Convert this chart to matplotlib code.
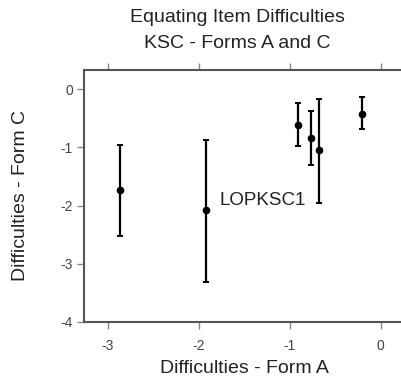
import numpy as np
import matplotlib.pyplot as plt

plt.rcParams['font.family'] = ['Liberation Sans', 'DejaVu Sans']

# difficulty estimates
form_a = [-2.87, -1.92, -0.91, -0.77, -0.68, -0.21]
form_c = [-1.73, -2.08, -0.61, -0.84, -1.05, -0.42]
err_hi = [-0.96, -0.88, -0.23, -0.37, -0.16, -0.14]
err_lo = [-2.52, -3.31, -0.98, -1.30, -1.95, -0.69]
label = 'LOPKSC1'

form_a = np.array(form_a)
form_c = np.array(form_c)
yerr = [form_c - np.array(err_lo), np.array(err_hi) - form_c]

fig = plt.figure(figsize=(4.02, 3.81), dpi=100)
ax = fig.add_axes([0.209, 0.155, 0.791, 0.661])

ax.errorbar(form_a, form_c, yerr=yerr, fmt='o', color='black', ms=4.5,
            elinewidth=1.6, capsize=2.5, capthick=1.4)
ax.text(-1.77, -1.92, label, fontsize=13.5, color='#222222', va='center')

ax.set_xlim(-3.26, 0.235)
ax.set_ylim(-4, 0.33)
ax.set_xticks([-3, -2, -1, 0])
ax.set_yticks([0, -1, -2, -3, -4])
ax.set_xticklabels(['-3', '-2', '-1', '0'])
ax.set_yticklabels(['0', '-1', '-2', '-3', '-4'])

ax.spines['right'].set_visible(False)
for s in ['left', 'top', 'bottom']:
    ax.spines[s].set_color('#555555')
    ax.spines[s].set_linewidth(1.5)
ax.tick_params(axis='both', direction='out', length=5, width=1, color='#888888',
               labelsize=10, labelcolor='#444444', pad=3)
ax.tick_params(axis='x', top=True, pad=7)

ax.set_xlabel('Difficulties - Form A', fontsize=14, color='#222222', va='center')
ax.xaxis.set_label_coords(0.506, -0.183)
ax.set_ylabel('Difficulties - Form C', fontsize=14, color='#222222', va='center')
ax.yaxis.set_label_coords(-0.201, 0.504)

fig.text(0.591, 0.953, 'Equating Item Difficulties', ha='center', va='center',
         fontsize=14, color='#222222')
fig.text(0.591, 0.887, 'KSC - Forms A and C', ha='center', va='center',
         fontsize=14, color='#222222')

plt.savefig('out.png', dpi=100)
